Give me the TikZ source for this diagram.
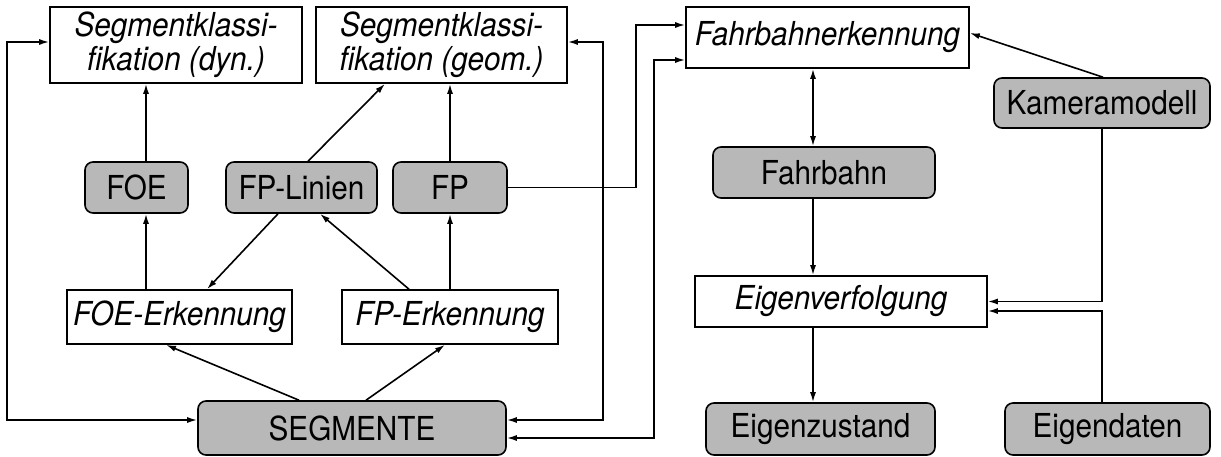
\documentclass[tikz,border=0pt]{standalone}
\usepackage{fontspec}
\setmainfont{TeX Gyre Heros}[FakeStretch=0.9]
\usepackage{tikz}
\usetikzlibrary{shapes,arrows,arrows.meta}
\usetikzlibrary{calc}
\usetikzlibrary{positioning}
\newcommand{\boxfont}{\fontsize{33}{34}\selectfont}
\tikzstyle{block} = [draw, rectangle, line width=1.6pt, font=\boxfont\itshape,
    align=center, inner sep=1pt]
\tikzstyle{store} = [draw, fill=black!28, rectangle, rounded corners=8pt,
    line width=1.6pt, font=\boxfont, inner sep=1pt]
\tikzstyle{link} = [line width=1.6pt]

\begin{document}
\begin{tikzpicture}[x=1pt, y=-1pt, >={Latex[length=10pt,width=6pt]}]
    \useasboundingbox (0,0) rectangle (1221,456);

    % We start by placing the blocks of the segment part
    \node [block, minimum width=252pt, minimum height=76pt] (segdyn) at (176,45) {Segmentklassi-\\fikation (dyn.)};
    \node [block, minimum width=251pt, minimum height=76pt] (seggeom) at (441.5,45) {Segmentklassi-\\fikation (geom.)};
    \node [store, minimum width=103pt, minimum height=51pt] (foe) at (136.5,187.5) {FOE};
    \node [store, minimum width=151pt, minimum height=51pt] (fplin) at (301.5,187.5) {FP-Linien};
    \node [store, minimum width=114pt, minimum height=51pt] (fp) at (450,187.5) {FP};
    \node [block, minimum width=225pt, minimum height=54pt] (foeerk) at (179.5,317) {FOE-Erkennung};
    \node [block, minimum width=216pt, minimum height=54pt] (fperk) at (450,317) {FP-Erkennung};
    \node [store, minimum width=308pt, minimum height=54pt] (segm) at (352,428) {SEGMENTE};

    % then the road and ego part
    \node [block, minimum width=283pt, minimum height=61pt] (fbe) at (827.5,37.5) {Fahrbahnerkennung};
    \node [store, minimum width=216pt, minimum height=50pt] (kam) at (1102,103) {Kameramodell};
    \node [store, minimum width=222pt, minimum height=51pt] (fb) at (824,172.5) {Fahrbahn};
    \node [block, minimum width=292pt, minimum height=51pt] (eigv) at (841,301.5) {Eigenverfolgung};
    \node [store, minimum width=229pt, minimum height=52pt] (eigz) at (820.5,429) {Eigenzustand};
    \node [store, minimum width=205pt, minimum height=52pt] (eigd) at (1107.5,429) {Eigendaten};

    \coordinate (foeline) at ([xshift=9.5pt]foe.center);
    \coordinate (fbline) at ([xshift=-11pt]fb.center);

    % Once the nodes are placed, connecting them is easy.
    \draw [link,->] (foeline |- foeerk.north) -- (foeline |- foe.south);
    \draw [link,->] (foeline |- foe.north) -- (foeline |- segdyn.south);
    \draw [link,->] (fperk.north) -- (fp.south);
    \draw [link,->] (fp.north) -- (fp.north |- seggeom.south);
    \draw [link,->] ([xshift=6.5pt]fplin.north) -- ([xshift=-56.5pt]seggeom.south);
    \draw [link,->] ([xshift=-23.5pt]fplin.south) -- ([xshift=27.5pt]foeerk.north);
    \draw [link,->] ([xshift=-41pt]fperk.north) -- ([xshift=18.5pt]fplin.south);
    \draw [link,->] ([xshift=-53pt]segm.north) -- ([xshift=-13.5pt]foeerk.south);
    \draw [link,->] ([xshift=14pt]segm.north) -- ([xshift=-5pt]fperk.south);

    % feedback loops
    \draw [link,<->] ([yshift=3pt]segdyn.west) -- ++(-42,0) |- ([yshift=8pt]segm.west);
    \draw [link,<->] ([yshift=3pt]seggeom.east) -- ++(35,0) |- ([yshift=8pt]segm.east);
    \draw [link,->] (fp.east) -- ++(128,0) |- ([yshift=12.5pt]fbe.west);
    \draw [link,<->] ([yshift=-10pt]segm.east) -- ++(147,0) |- ([yshift=-22.5pt]fbe.west);

    \draw [link,<->] (fbline |- fbe.south) -- (fbline |- fb.north);
    \draw [link,->] (fbline |- fb.south) -- (fbline |- eigv.north);
    \draw [link,->] (fbline |- eigv.south) -- (fbline |- eigz.north);
    \draw [link,->] ([xshift=1pt]kam.north) -- ([yshift=4.5pt]fbe.east);
    \draw [link,->] (kam.south) |- (eigv.east);
    \draw [link,->] ([xshift=-5.5pt]eigd.north) |- ([yshift=-9.5pt]eigv.east);
\end{tikzpicture}
\end{document}
